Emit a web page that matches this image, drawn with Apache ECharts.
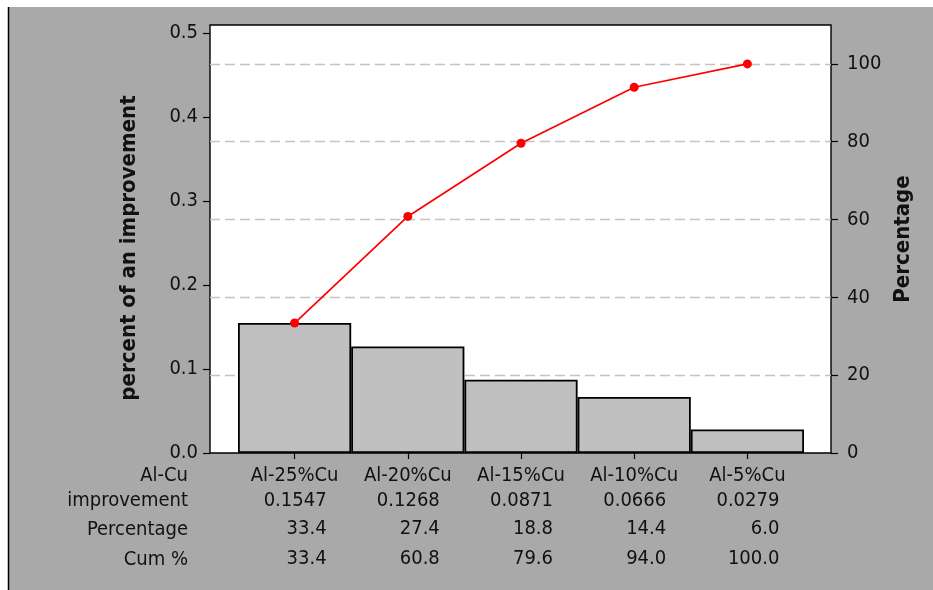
<!DOCTYPE html>
<html>
<head>
<meta charset="utf-8">
<script src="https://cdn.jsdelivr.net/npm/echarts@6/dist/echarts.min.js"></script>
<style>
html,body{margin:0;padding:0;background:#fff;}
#chart{width:933px;height:590px;}
</style>
</head>
<body>
<div id="chart"></div>
<script>
const categories = ['Al-25%Cu', 'Al-20%Cu', 'Al-15%Cu', 'Al-10%Cu', 'Al-5%Cu'];
const improvement = [0.1547, 0.1268, 0.0871, 0.0666, 0.0279];
const percentage = [33.4, 27.4, 18.8, 14.4, 6.0];
const cumPercent = [33.4, 60.8, 79.6, 94.0, 100.0];
const rowHeaders = ['Al-Cu', 'improvement', 'Percentage', 'Cum %'];
const leftTicks = [0, 0.1, 0.2, 0.3, 0.4, 0.5];
const rightTicks = [0, 20, 40, 60, 80, 100];

const total = improvement.reduce((a, b) => a + b, 0);
const FONT = "'DejaVu Sans Condensed', 'DejaVu Sans', sans-serif";
const FS = 20;
const TFS = 22;
const TXT = '#111';

// layout
const PL = 210, PR = 831, PT = 25, PB = 453;
const BL = 238, BR = 804;
const rowY = [476, 501, 530, 560];

const chart = echarts.init(document.getElementById('chart'), null, {renderer: 'canvas'});

const graphics = [
  {type: 'rect', z: -10, shape: {x: 9, y: 7, width: 924, height: 583}, style: {fill: '#a9a9a9'}, silent: true},
  {type: 'line', z: -9, shape: {x1: 8.5, y1: 7, x2: 8.5, y2: 590}, style: {stroke: '#000', lineWidth: 1.5}, silent: true}
];
rowHeaders.forEach((t, i) => {
  graphics.push({type: 'text', x: 188, y: rowY[i], style: {text: t, fill: TXT, font: FS + 'px ' + FONT, textAlign: 'right', textVerticalAlign: 'middle'}});
});

chart.setOption({
  animation: false,
  graphic: graphics,
  grid: [
    {left: PL, right: 933 - PR, top: PT, bottom: 590 - PB, show: true, backgroundColor: '#fff', borderColor: '#000', borderWidth: 1.4},
    {left: BL, right: 933 - BR, top: PT, bottom: 590 - PB}
  ],
  xAxis: [
    {gridIndex: 0, type: 'value', min: 0, max: 1, show: false},
    {
      gridIndex: 1, type: 'category', data: categories, boundaryGap: true,
      axisLine: {show: false},
      axisTick: {show: true, alignWithLabel: true, length: 6, lineStyle: {color: '#000', width: 1.2}},
      axisLabel: {
        interval: 0,
        margin: 11,
        fontFamily: FONT, fontSize: FS, color: TXT,
        formatter: (v, i) => `{n|${categories[i]}}\n{a|${improvement[i].toFixed(4)}}\n{b|${percentage[i].toFixed(1)}}\n{b|${cumPercent[i].toFixed(1)}}`,
        rich: {
          n: {fontFamily: FONT, fontSize: FS, color: TXT, lineHeight: 24, width: 100, align: 'center'},
          a: {fontFamily: FONT, fontSize: FS, color: TXT, lineHeight: 26, align: 'right', padding: [0, 18, 0, 0]},
          b: {fontFamily: FONT, fontSize: FS, color: TXT, lineHeight: 30, align: 'right', padding: [0, 18, 0, 0]}
        }
      }
    }
  ],
  yAxis: [
    {
      gridIndex: 0, type: 'value', min: 0, max: 110, interval: 20,
      axisLine: {show: false}, axisTick: {show: false}, axisLabel: {show: false},
      splitLine: {show: true, showMinLine: false, showMaxLine: false, lineStyle: {color: '#c4c4c4', type: [10, 5], width: 1.3}}
    },
    {
      gridIndex: 1, type: 'value', position: 'left', offset: BL - PL, min: 0, max: total * 1.1,
      name: 'percent of an improvement', nameLocation: 'middle', nameGap: 70, nameRotate: 90,
      nameTextStyle: {fontFamily: FONT, fontSize: TFS, fontWeight: 'bold', color: TXT, padding: [0, 18, 0, 0]},
      axisLine: {show: false},
      axisTick: {show: true, length: 7, customValues: leftTicks, lineStyle: {color: '#000', width: 1.2}},
      axisLabel: {customValues: leftTicks, margin: 12, fontFamily: FONT, fontSize: FS, color: TXT, formatter: v => v.toFixed(1)},
      splitLine: {show: false}
    },
    {
      gridIndex: 1, type: 'value', position: 'right', offset: PR - BR, min: 0, max: 110,
      name: 'Percentage', nameLocation: 'middle', nameGap: 58, nameRotate: 90,
      nameTextStyle: {fontFamily: FONT, fontSize: TFS, fontWeight: 'bold', color: TXT},
      axisLine: {show: false},
      axisTick: {show: true, length: 7, customValues: rightTicks, lineStyle: {color: '#000', width: 1.2}},
      axisLabel: {customValues: rightTicks, margin: 16, fontFamily: FONT, fontSize: FS, color: TXT, formatter: v => String(v)},
      splitLine: {show: false}
    }
  ],
  series: [
    {
      type: 'bar', xAxisIndex: 1, yAxisIndex: 1, data: improvement,
      barWidth: '100%', barCategoryGap: '0%',
      itemStyle: {color: '#c0c0c0', borderColor: '#000', borderWidth: 1.8}
    },
    {
      type: 'line', xAxisIndex: 1, yAxisIndex: 2, data: cumPercent,
      symbol: 'circle', symbolSize: 9, z: 5,
      lineStyle: {color: '#ff0000', width: 1.7},
      itemStyle: {color: '#ff0000'}
    }
  ]
});
</script>
</body>
</html>
